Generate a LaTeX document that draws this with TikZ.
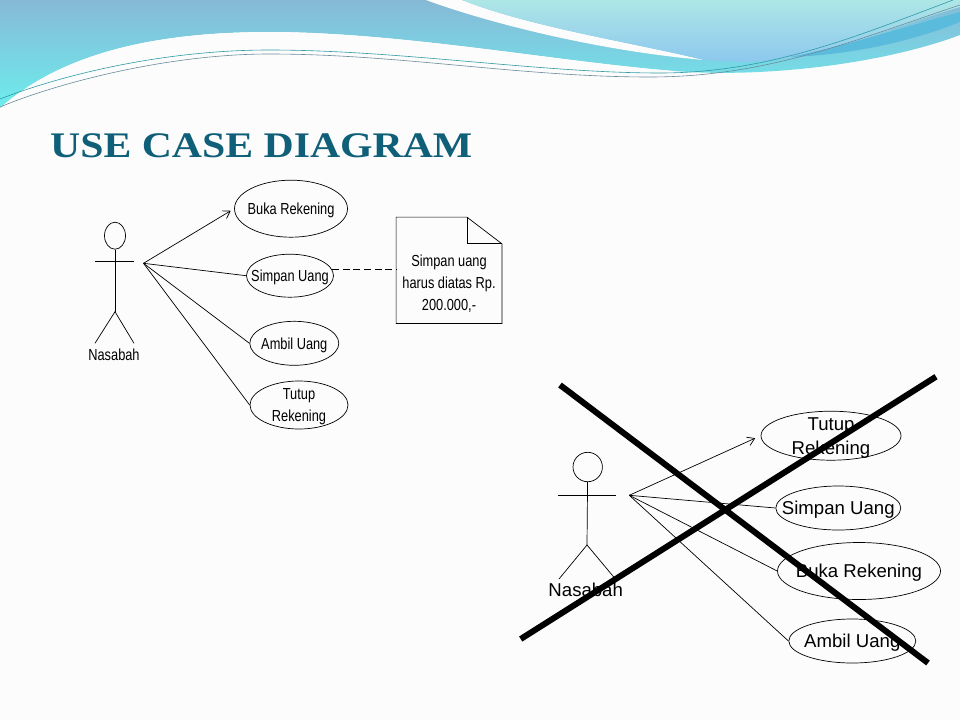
\documentclass[tikz,border=0pt]{standalone}
\usepackage{fontspec}
\setmainfont{Liberation Sans}
\newfontfamily\titlefont[FakeStretch=1.16]{Liberation Serif}
\newfontfamily\umlfont[FakeStretch=0.8]{Liberation Sans}
\usetikzlibrary{positioning,shapes.geometric,arrows.meta,calc}
\definecolor{paper}{HTML}{FCFCFC}
\definecolor{bandtop}{HTML}{86B9D6}
\definecolor{bandlow}{HTML}{6DEDEE}
\definecolor{skytop}{HTML}{AEE6E6}
\definecolor{skylow}{HTML}{8CC8EE}
\definecolor{wedge}{HTML}{5BBBDD}
\definecolor{wireA}{HTML}{2F9AA5}
\definecolor{wireB}{HTML}{6A8C9A}
\definecolor{titleteal}{HTML}{0F5F78}
\newcommand{\lbl}[1]{\makebox[0pt]{\raisebox{-0.36em}[0pt][0pt]{#1}}}
\begin{document}
\begin{tikzpicture}[x=1pt,y=-1pt,font=\umlfont\fontsize{16}{22}\selectfont,
  line/.style={draw=black,line width=0.7pt},
  usecase/.style={ellipse,line,inner sep=0pt,align=center},
  usecasebig/.style={usecase,font=\normalfont\fontsize{18.6}{24}\selectfont},
  head/.style={ellipse,line,inner sep=0pt},
  arr/.style={line,-{Straight Barb[length=7pt,width=9pt]}},
  cross/.style={draw=black,line width=6pt}]
\useasboundingbox (0,0) rectangle (960,720);
\fill[paper] (0,0) rectangle (960,720);
% latar atas
\shade[top color=bandtop,bottom color=bandlow] (0,0) -- (960,0) -- (960,35)
  .. controls (880,65) and (760,78) .. (674,71)
  .. controls (560,62) and (400,32) .. (269,32) .. controls (150,32) and (60,55) .. (0,108) -- cycle;
\fill[paper] (0,108) .. controls (60,55) and (150,32) .. (269,32)
  .. controls (400,32) and (560,62) .. (674,71) .. controls (660,75) and (640,77) .. (620,76)
  .. controls (500,66) and (380,53) .. (269,53) .. controls (160,53) and (60,75) .. (0,108) -- cycle;
\fill[paper] (426,0) .. controls (480,20) and (590,50) .. (704,60)
  .. controls (630,42) and (530,27) .. (462,0) -- cycle;
\shade[top color=skytop,bottom color=skylow] (462,0) -- (960,0) -- (960,7)
  .. controls (880,30) and (820,62) .. (740,62) -- (704,60)
  .. controls (630,42) and (530,27) .. (462,0) -- cycle;
\fill[wedge] (790,57) .. controls (850,45) and (910,25) .. (960,12) -- (960,22)
  .. controls (910,42) and (850,55) .. (790,57) -- cycle;
\draw[wireA,line width=0.6pt] (0,99) .. controls (70,72) and (170,50) .. (269,50)
  .. controls (400,50) and (540,73) .. (660,73) .. controls (770,73) and (860,35) .. (953,0);
\draw[wireB,line width=0.6pt] (0,107) .. controls (60,82) and (170,54) .. (269,54)
  .. controls (400,54) and (520,77) .. (650,77) .. controls (770,77) and (860,38) .. (960,5);
\node[anchor=base west,inner sep=0pt,text=titleteal,font=\titlefont\bfseries\fontsize{36}{40}\selectfont] (title) at (50,157.3) {USE CASE DIAGRAM};
% aktor kiri
\node[head,minimum width=21pt,minimum height=27pt] (headA) at (115,235.7) {};
\coordinate (armAl) at (95,261.7);
\coordinate (armAr) at (134,261.7);
\coordinate (hipA) at (115,311.7);
\coordinate (footAl) at (95,343.3);
\coordinate (footAr) at (134,343.3);
\coordinate (portA) at (143.5,263.3);
\node[inner sep=0pt] (nasabahA) at (114,355) {Nasabah};
\draw[line] (armAl) -- (armAr);
\draw[line] (headA) -- (hipA);
\draw[line] (footAl) -- (hipA) -- (footAr);
% use case kiri
\node[usecase,minimum width=113pt,minimum height=57pt] (bukaA) at (291,208.7) {\lbl{Buka Rekening}};
\node[usecase,minimum width=87pt,minimum height=43pt] (simpanA) at (290,275.7) {\lbl{Simpan Uang}};
\node[usecase,minimum width=89pt,minimum height=44pt] (ambilA) at (294.3,343.3) {\lbl{Ambil Uang}};
\node[usecase,minimum width=98pt,minimum height=48pt] (tutupA) at (299,405) {\lbl{Tutup}\\\lbl{Rekening}};
\draw[arr,shorten >=4pt] (portA) -- (bukaA.west);
\draw[line] (portA) -- (simpanA.west);
\draw[line] (portA) -- (ambilA.west);
\draw[line] (portA) -- (tutupA.west);
% catatan
\node[minimum width=105.4pt,minimum height=106pt,inner sep=0pt] (note) at (449,270.3) {};
\node[inner sep=0pt,align=center] (noteText) at (449,284) {Simpan uang\\harus diatas Rp.\\200.000,-};
\draw[line] (note.north west) -- ($(note.north east)+(-35,0)$) -- ($(note.north east)+(0,26.7)$)
  -- (note.south east) -- (note.south west) -- cycle;
\draw[line] ($(note.north east)+(-35,0)$) |- ($(note.north east)+(0,26.7)$);
\draw[line,dash pattern=on 7pt off 3.6pt] (simpanA.8) -- (simpanA.8 -| note.west);
% aktor kanan
\node[head,minimum width=29.4pt,minimum height=29.4pt] (headB) at (587.7,467) {};
\coordinate (armBl) at (558.3,495.3);
\coordinate (armBr) at (616,495.3);
\coordinate (hipB) at (587,545);
\coordinate (footBl) at (559,579);
\coordinate (footBr) at (614,577.3);
\coordinate (portB) at (629.3,495.3);
\node[inner sep=0pt,font=\normalfont\fontsize{18.6}{22}\selectfont] (nasabahB) at (585.7,590) {Nasabah};
\draw[line] (armBl) -- (armBr);
\draw[line] (headB) -- (hipB);
\draw[line] (footBl) -- (hipB) -- (footBr);
% use case kanan
\node[usecasebig,minimum width=140pt,minimum height=49pt] (tutupB) at (831,435.7) {\lbl{Tutup}\\\lbl{Rekening}};
\node[usecasebig,minimum width=125pt,minimum height=44pt] (simpanB) at (838.3,508) {\lbl{Simpan Uang}};
\node[usecasebig,minimum width=163pt,minimum height=57pt] (bukaB) at (859,571) {\lbl{Buka Rekening}};
\node[usecasebig,minimum width=127pt,minimum height=44pt] (ambilB) at (852.3,641) {\lbl{Ambil Uang}};
\draw[arr,shorten >=6pt] (portB) -- (tutupB.west);
\draw[line] (portB) -- (simpanB.west);
\draw[line] (portB) -- (bukaB.west);
\draw[line] (portB) -- (ambilB.west);
% tanda silang
\coordinate (crossAa) at (560,385);
\coordinate (crossAb) at (928,663);
\coordinate (crossBa) at (936,376.7);
\coordinate (crossBb) at (520.7,639);
\draw[cross] (crossAa) -- (crossAb);
\draw[cross] (crossBa) -- (crossBb);
\end{tikzpicture}
\end{document}
